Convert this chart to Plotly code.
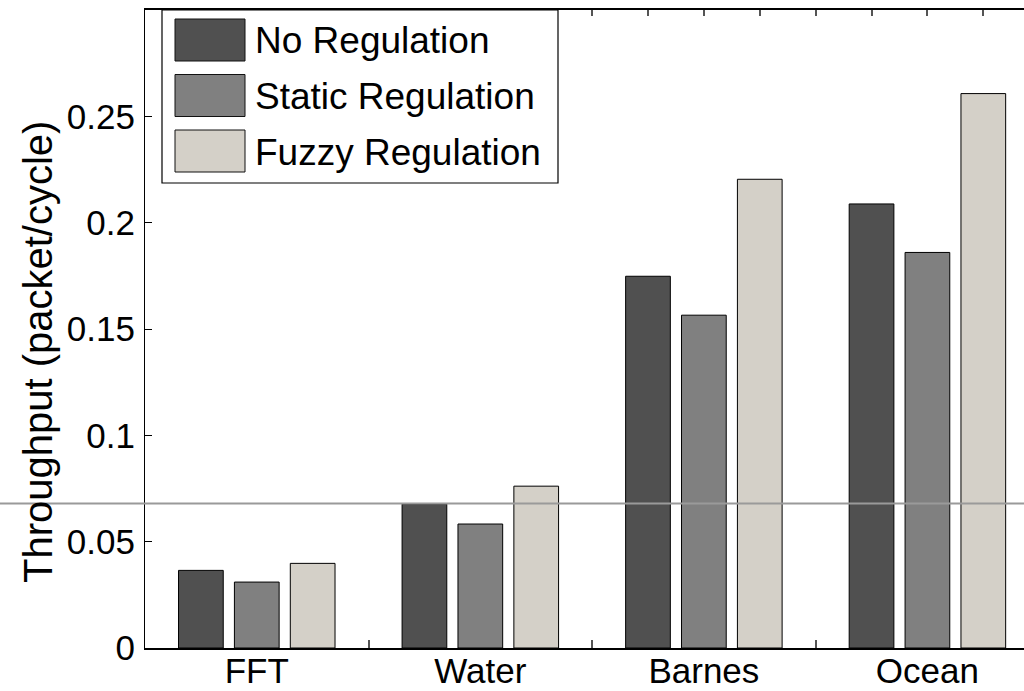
import plotly.graph_objects as go

categories = ["FFT", "Water", "Barnes", "Ocean"]
series_names = ["No Regulation", "Static Regulation", "Fuzzy Regulation"]
no_regulation = [0.0365, 0.0677, 0.1748, 0.2088]
static_regulation = [0.0310, 0.0583, 0.1565, 0.1860]
fuzzy_regulation = [0.0398, 0.0761, 0.2204, 0.2607]
reference_level = 0.068
y_ticks = [0, 0.05, 0.1, 0.15, 0.2, 0.25]
y_tick_labels = ["0", "0.05", "0.1", "0.15", "0.2", "0.25"]

colors = ["#505050", "#808080", "#D4D0C8"]
FONT = "Liberation Sans, Arial, Helvetica, sans-serif"

W, H = 1024, 691
ML, MT, MB = 145, 10, 43
plot_w = W - ML
plot_h = H - MT - MB
YMAX = 0.3
XMIN, XMAX = 0.5, 4.432

xpos = list(range(1, len(categories) + 1))
values = [no_regulation, static_regulation, fuzzy_regulation]
offsets = [-0.35, -0.10, 0.15]

fig = go.Figure()
for name, vals, col, off in zip(series_names, values, colors, offsets):
    fig.add_trace(go.Bar(
        x=xpos, y=vals, name=name, width=0.2, offset=off,
        marker=dict(color=col, line=dict(color="#000000", width=1)),
        showlegend=False,
    ))

# invisible trace for top axis ticks
fig.add_trace(go.Scatter(x=[XMIN], y=[0], xaxis="x2", mode="markers",
                         marker=dict(opacity=0), showlegend=False, hoverinfo="skip"))

def px_to_paper_x(px):
    return (px - ML) / plot_w

def px_to_paper_y(py):
    return (H - MB - py) / plot_h

shapes = []
annotations = []

# reference line spanning the whole image
ry = reference_level / YMAX
shapes.append(dict(type="line", xref="paper", yref="paper",
                   x0=px_to_paper_x(0), x1=px_to_paper_x(W + 10), y0=ry, y1=ry,
                   line=dict(color="#9a9a9a", width=2), layer="above"))

# custom legend
lx0, lx1, ly0, ly1 = 162, 558, 10, 183
shapes.append(dict(type="rect", xref="paper", yref="paper",
                   x0=px_to_paper_x(lx0), x1=px_to_paper_x(lx1),
                   y0=px_to_paper_y(ly1), y1=px_to_paper_y(ly0),
                   fillcolor="white", line=dict(color="black", width=1.2), layer="above"))
row_centers = [40, 95.5, 151]
for name, col, cy in zip(series_names, colors, row_centers):
    shapes.append(dict(type="rect", xref="paper", yref="paper",
                       x0=px_to_paper_x(175), x1=px_to_paper_x(245),
                       y0=px_to_paper_y(cy + 21), y1=px_to_paper_y(cy - 21),
                       fillcolor=col, line=dict(color="#111111", width=1), layer="above"))
    annotations.append(dict(xref="paper", yref="paper",
                            x=px_to_paper_x(253), y=px_to_paper_y(cy + 1),
                            xanchor="left", yanchor="middle", showarrow=False,
                            text=name, font=dict(family=FONT, size=37, color="black")))

# y-axis title
annotations.append(dict(xref="paper", yref="paper",
                        x=px_to_paper_x(38), y=px_to_paper_y(352),
                        xanchor="center", yanchor="middle", showarrow=False,
                        textangle=-90, text="Throughput (packet/cycle)",
                        font=dict(family=FONT, size=40, color="black")))

fig.update_layout(
    width=W, height=H,
    margin=dict(l=ML, r=0, t=MT, b=MB, pad=0, autoexpand=False),
    paper_bgcolor="white", plot_bgcolor="white",
    font=dict(family=FONT, size=35, color="black"),
    showlegend=False,
    shapes=shapes, annotations=annotations,
    xaxis=dict(
        range=[XMIN, XMAX], tickvals=xpos, ticktext=categories,
        ticks="inside", ticklen=0, showgrid=False, zeroline=False,
        showline=True, linecolor="black", linewidth=2, mirror=True,
        automargin=False, ticklabelstandoff=-9,
        tickfont=dict(family=FONT, size=35, color="black"),
        minor=dict(tickvals=[1.5, 2.5, 3.5], ticks="inside", ticklen=8,
                   tickcolor="#555555", tickwidth=1.5, showgrid=False),
    ),
    xaxis2=dict(
        range=[XMIN, XMAX], overlaying="x", side="top",
        tickvals=[0.75 + 0.25 * i for i in range(15)],
        ticks="inside", ticklen=6, tickcolor="#555555", tickwidth=1.5,
        showticklabels=False, showgrid=False, zeroline=False, showline=False,
        automargin=False,
    ),
    yaxis=dict(
        range=[0, YMAX], tickvals=y_ticks, ticktext=y_tick_labels,
        ticks="inside", ticklen=7, tickcolor="black", tickwidth=1,
        showgrid=False, zeroline=False, showline=True, linecolor="black", linewidth=1.2,
        automargin=False,
        tickfont=dict(family=FONT, size=35, color="black"),
        ticklabelstandoff=2,
    ),
)

fig.write_html("out.html")
